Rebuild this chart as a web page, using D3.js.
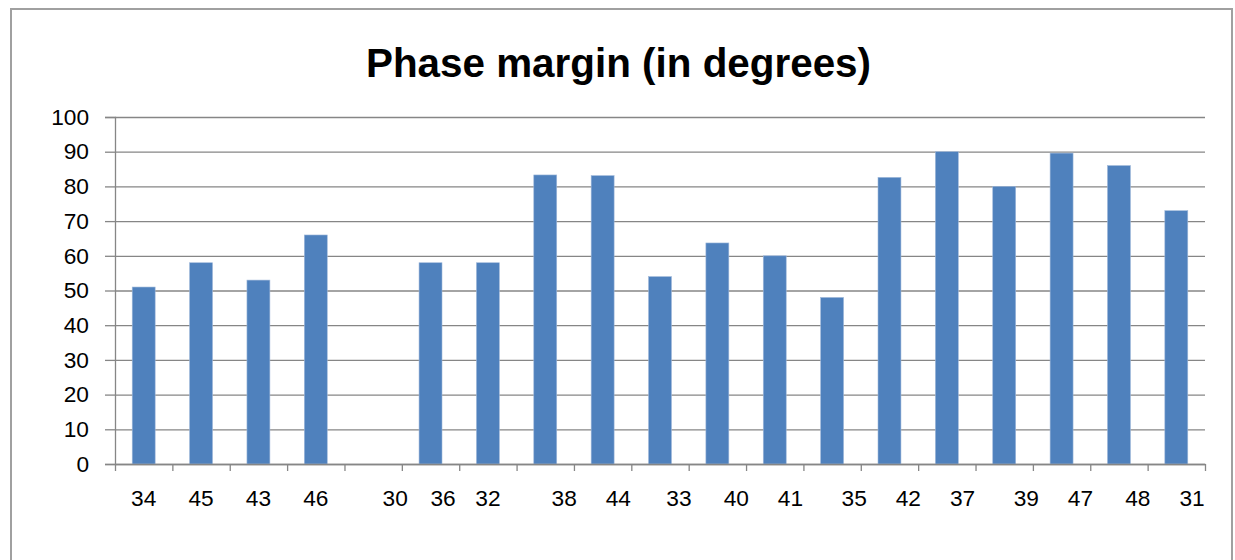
<!DOCTYPE html>
<html>

<head>
  <meta charset="utf-8">
  <title>Phase margin</title>
  <style>
    body { margin: 0; background: #fff; }
    text { font-family: "Liberation Sans", Arial, sans-serif; }
  </style>
</head>

<body>
  <svg width="1235" height="560"></svg>
  <script src="https://d3js.org/d3.v7.min.js"></script>
  <script>
    // category labels as they appear under the axis (some carry leading spaces)
    var categories = ["34", "45", "43", "46",
      "\u00a0\u00a0\u00a0\u00a0\u00a0\u00a0\u00a030",
      "\u00a0\u00a0\u00a0\u00a036",
      "32",
      "\u00a0\u00a0\u00a0\u00a0\u00a0\u00a038",
      "\u00a0\u00a0\u00a0\u00a0\u00a044",
      "\u00a0\u00a0\u00a0\u00a0\u00a0\u00a033",
      "\u00a0\u00a0\u00a0\u00a0\u00a0\u00a040",
      "\u00a0\u00a0\u00a0\u00a0\u00a041",
      "\u00a0\u00a0\u00a0\u00a0\u00a0\u00a0\u00a035",
      "\u00a0\u00a0\u00a0\u00a0\u00a0\u00a042",
      "\u00a0\u00a0\u00a0\u00a0\u00a037",
      "\u00a0\u00a0\u00a0\u00a0\u00a0\u00a0\u00a039",
      "\u00a0\u00a0\u00a0\u00a0\u00a0\u00a047",
      "\u00a0\u00a0\u00a0\u00a0\u00a0\u00a048",
      "\u00a0\u00a0\u00a0\u00a0\u00a031"];
    var phaseMargin = [51, 58, 53, 66, null, 58, 58, 83.3, 83.1, 54, 63.7, 60, 48, 82.6, 90, 80, 89.6, 86, 73];
    var yTicks = [0, 10, 20, 30, 40, 50, 60, 70, 80, 90, 100];

    var plotLeft = 115, plotRight = 1205, plotTop = 117, plotBottom = 464;
    var svg = d3.select("svg");

    // chart frame
    svg.append("rect")
      .attr("x", 11).attr("y", 9)
      .attr("width", 1221).attr("height", 570)
      .attr("fill", "#fff")
      .attr("stroke", "#a0a0a0")
      .attr("stroke-width", 2);

    svg.append("text")
      .attr("x", 618.5).attr("y", 77)
      .attr("text-anchor", "middle")
      .style("font-size", "40.4px")
      .style("font-weight", "bold")
      .text("Phase margin (in degrees)");

    var idx = d3.range(categories.length);
    var xScale = d3.scaleBand().domain(idx).range([plotLeft, plotRight]).paddingInner(0.6).paddingOuter(0.3);
    var xSlots = d3.scaleLinear().domain([0, categories.length]).range([plotLeft, plotRight]);
    var yScale = d3.scaleLinear().domain([0, 100]).range([plotBottom, plotTop]);

    // gridlines
    svg.append("g")
      .attr("transform", "translate(" + plotLeft + ",0)")
      .call(d3.axisLeft(yScale).tickValues(yTicks).tickSize(-(plotRight - plotLeft)).tickFormat(""))
      .call(g => g.select(".domain").remove())
      .call(g => g.selectAll("line").attr("stroke", "#868686").attr("stroke-width", 1.3));

    // bars
    svg.append("g")
      .selectAll("rect")
      .data(idx.filter(i => phaseMargin[i] != null))
      .join("rect")
      .attr("x", i => xScale(i))
      .attr("y", i => yScale(phaseMargin[i]))
      .attr("width", xScale.bandwidth())
      .attr("height", i => plotBottom - yScale(phaseMargin[i]))
      .attr("fill", "#4f81bd")
      .attr("stroke", "#9fb8da")
      .attr("stroke-width", 0.6);

    // y axis
    svg.append("g")
      .attr("transform", "translate(" + plotLeft + ",0)")
      .call(d3.axisLeft(yScale).tickValues(yTicks).tickSize(10).tickPadding(16))
      .call(g => g.selectAll("line, path").attr("stroke", "#868686").attr("stroke-width", 1.3))
      .call(g => g.selectAll("text").attr("fill", "#000").style("font-size", "22.7px")
        .style("font-family", "'Liberation Sans', Arial, sans-serif"));

    // x axis with ticks on slot boundaries
    svg.append("g")
      .attr("transform", "translate(0," + plotBottom + ")")
      .call(d3.axisBottom(xSlots).tickValues(d3.range(categories.length + 1)).tickSize(7).tickSizeOuter(0).tickFormat(""))
      .call(g => g.selectAll("line, path").attr("stroke", "#868686").attr("stroke-width", 1.3));

    // labels: centre the padded string on the slot, then draw only the digits
    // right-aligned where the padded string would end
    svg.append("g")
      .selectAll("text")
      .data(idx)
      .join("text")
      .attr("y", 506)
      .style("font-size", "22.7px")
      .text(i => categories[i])
      .each(function (i) {
        var el = d3.select(this);
        var full = this.getComputedTextLength();
        el.attr("text-anchor", "end")
          .attr("x", xScale(i) + xScale.bandwidth() / 2 + full / 2)
          .text(categories[i].replace(/^\s+/, ""));
      });
  </script>

</body>

</html>
